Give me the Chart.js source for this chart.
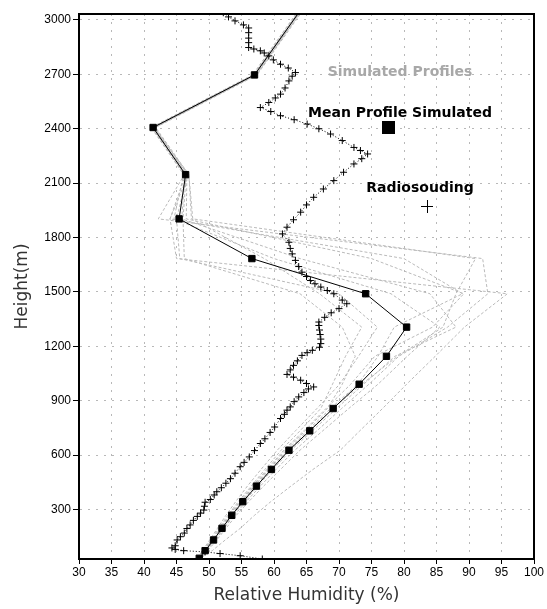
<!DOCTYPE html>
<html>
<head>
<meta charset="utf-8">
<title>Relative Humidity profiles</title>
<script src="https://cdn.jsdelivr.net/npm/chart.js@4/dist/chart.umd.min.js"></script>
<style>
  html, body { margin: 0; padding: 0; background: #fff; }
  #wrap { width: 547px; height: 609px; }
</style>
</head>
<body>
<div id="wrap"><canvas id="rh" width="547" height="609"></canvas></div>
<script>
/* ── Axis ticks ── */
var xTicks = [30, 35, 40, 45, 50, 55, 60, 65, 70, 75, 80, 85, 90, 95, 100];
var yTicks = [300, 600, 900, 1200, 1500, 1800, 2100, 2400, 2700, 3000];

/* ── Model levels (m) shared by simulated profiles ── */
var levels = [31, 73, 132, 196, 268, 343, 429, 521, 627, 734, 857, 991, 1145, 1306, 1490, 1684, 1903, 2147, 2407, 2697, 3050];

/* ── Mean simulated profile (RH %) ── */
var meanRH = [48.5, 49.4, 50.7, 52.0, 53.5, 55.2, 57.3, 59.6, 62.3, 65.5, 69.1, 73.1, 77.3, 80.4, 74.1, 56.6, 45.4, 46.4, 41.4, 57.0, 64.0];

/* ── Individual simulated profiles (RH %) ── */
var sim1 = [48.3, 50.5, 52.5, 54.8, 57.0, 59.5, 62.6, 66.0, 70.2, 73.2, 76.7, 80.4, 84.8, 89.3, 95.9, 45.0, 44.0, 46.8, 41.6, 57.3, 64.2];
var sim2 = [48.6, 49.6, 51.0, 52.3, 53.9, 55.7, 57.9, 60.3, 63.2, 66.6, 70.4, 74.6, 79.2, 86.7, 92.9, 92.1, 42.2, 46.2, 41.2, 56.8, 63.8];
var sim3 = [48.4, 49.2, 50.4, 51.7, 53.1, 54.7, 56.7, 58.9, 61.5, 64.6, 68.0, 71.8, 75.5, 84.4, 89.2, 75.0, 46.5, 46.6, 41.5, 57.1, 64.1];
var sim4 = [48.7, 49.5, 50.8, 52.2, 53.7, 55.4, 57.5, 59.8, 62.6, 65.9, 69.6, 73.8, 78.6, 88.0, 84.0, 64.0, 45.8, 46.3, 41.3, 56.9, 63.9];
var sim5 = [48.2, 49.0, 50.1, 51.3, 52.6, 54.1, 55.9, 58.0, 60.5, 63.3, 66.6, 70.1, 73.0, 75.9, 70.0, 45.5, 45.0, 46.7, 41.7, 57.2, 64.3];
var sim6 = [48.5, 49.3, 50.5, 51.8, 53.3, 54.9, 56.9, 59.1, 61.7, 64.8, 68.2, 70.5, 72.5, 70.5, 64.0, 46.2, 46.0, 46.5, 41.4, 57.0, 64.0];
var sim7 = [48.9, 49.8, 51.2, 52.6, 54.2, 56.1, 58.4, 61.0, 64.0, 67.5, 71.5, 76.0, 80.5, 85.5, 78.0, 60.0, 44.6, 46.1, 41.1, 56.7, 63.7];
var sim8 = [48.3, 49.1, 50.3, 51.5, 52.9, 54.5, 56.5, 58.6, 61.1, 64.0, 67.2, 69.0, 71.0, 73.5, 67.0, 58.5, 47.3, 46.9, 41.8, 57.4, 64.4];
var sim9 = [48.6, 49.4, 50.6, 51.9, 53.4, 55.0, 57.0, 59.3, 62.0, 65.1, 68.7, 72.9, 76.0, 78.5, 89.0, 80.0, 44.0, 46.4, 41.3, 57.0, 64.0];
var sim10 = [48.5, 49.3, 50.6, 51.9, 53.4, 55.1, 57.2, 59.5, 62.2, 65.4, 69.0, 73.5, 79.0, 86.0, 88.0, 91.0, 47.5, 46.9, 41.5, 57.1, 64.1];
var simProfiles = [sim1, sim2, sim3, sim4, sim5, sim6, sim7, sim8, sim9, sim10];

/* ── Radiosounding (RH %, height m) ── */
var sondeRH = [58.2, 54.8, 51.7, 49.4, 46.1, 44.8, 44.3, 44.8, 45.1, 45.6, 46.2, 46.6, 47.1, 47.6, 48.2, 48.7, 49.2, 49.3, 49.4,
  50.2, 50.8, 51.2, 51.9, 52.6, 53.3, 54.0, 54.8, 55.4, 56.2, 57.0, 57.9, 58.6, 59.4, 60.1, 61.0, 61.6, 62.0, 62.5, 63.1, 63.8,
  64.6, 65.3, 66.1, 65.0, 64.1, 63.0, 62.0, 62.5, 63.0, 63.6, 64.3, 65.1, 65.9, 67.0, 67.2, 67.2, 67.1, 67.0, 66.9, 66.9, 67.8,
  68.8, 70.0, 71.2, 70.5, 69.2, 68.2, 67.2, 66.3, 65.6, 65.0, 64.3, 63.8, 63.3, 62.8, 62.5, 62.3, 61.3, 62.0, 63.0, 64.1, 65.0,
  66.1, 67.6, 69.2, 70.7, 72.3, 73.5, 74.4, 73.3, 72.3, 70.5, 68.7, 66.9, 65.1, 63.1, 61.0, 59.5, 57.9, 59.2, 60.2, 61.0, 61.7,
  62.3, 62.8, 63.3, 62.2, 61.0, 59.9, 59.2, 58.5, 57.9, 56.9, 56.1, 56.1, 56.1, 56.1, 56.1, 55.3, 54.0, 53.0, 52.2];
var sondeH = [27, 45, 57, 66, 73, 80, 88, 100, 132, 150, 170, 195, 215, 240, 262, 280, 297, 318, 340,
  355, 380, 398, 420, 445, 470, 500, 536, 560, 590, 625, 664, 690, 725, 755, 802, 825, 848, 866, 895, 921,
  945, 965, 976, 995, 1013, 1030, 1045, 1070, 1095, 1120, 1150, 1165, 1178, 1195, 1215, 1240, 1265, 1290, 1315, 1334, 1360,
  1385, 1408, 1435, 1455, 1490, 1508, 1527, 1545, 1563, 1585, 1609, 1640, 1674, 1710, 1740, 1774, 1820, 1857, 1898, 1940, 1980,
  2022, 2068, 2114, 2160, 2206, 2235, 2261, 2280, 2297, 2335, 2371, 2400, 2426, 2450, 2472, 2495, 2517, 2545, 2570, 2591, 2625,
  2664, 2690, 2710, 2735, 2756, 2780, 2802, 2818, 2830, 2840, 2848, 2875, 2900, 2930, 2956, 2973, 2995, 3017, 3040];

function toPoints(xs, ys) {
  return xs.map(function (v, i) { return { x: v, y: ys[i] }; });
}

var datasets = [];
datasets.push({
  label: "Mean Profile Simulated",
  data: toPoints(meanRH, levels),
  showLine: true,
  borderColor: "#000",
  borderWidth: 1,
  pointStyle: "rect",
  pointRadius: 4.5,
  pointBorderWidth: 1,
  backgroundColor: "#000",
  pointBorderColor: "#000"
});
datasets.push({
  label: "Radiosouding",
  data: toPoints(sondeRH, sondeH),
  showLine: true,
  borderColor: "#000",
  borderWidth: 1,
  borderDash: [1, 2],
  pointStyle: "cross",
  pointRadius: 3.5,
  pointBorderWidth: 1,
  pointBorderColor: "#000"
});
simProfiles.forEach(function (p, i) {
  datasets.push({
    label: "Simulated " + (i + 1),
    data: toPoints(p, levels),
    showLine: true,
    borderColor: "#bababa",
    borderWidth: 1,
    borderDash: [3, 2],
    pointRadius: 0
  });
});

/* frame on top/right + in-plot legend text */
var framePlugin = {
  id: "frame",
  afterDraw: function (chart) {
    var ctx = chart.ctx, a = chart.chartArea;
    ctx.save();
    ctx.strokeStyle = "#000";
    ctx.lineWidth = 2;
    ctx.strokeRect(a.left, a.top, a.right - a.left, a.bottom - a.top);

    ctx.font = "bold 14px 'DejaVu Sans'";
    ctx.textAlign = "center";
    ctx.textBaseline = "middle";
    ctx.fillStyle = "#a8a8a8";
    ctx.fillText("Simulated Profiles", a.left + 321, a.top + 58);
    ctx.fillStyle = "#000";
    ctx.fillText("Mean Profile Simulated", a.left + 321, a.top + 99);
    ctx.fillRect(a.left + 303, a.top + 107, 13, 13);
    ctx.fillText("Radiosouding", a.left + 341, a.top + 174);
    ctx.lineWidth = 1;
    ctx.beginPath();
    ctx.moveTo(a.left + 342, a.top + 192.5);
    ctx.lineTo(a.left + 354, a.top + 192.5);
    ctx.moveTo(a.left + 348.5, a.top + 186);
    ctx.lineTo(a.left + 348.5, a.top + 199);
    ctx.stroke();
    ctx.restore();
  }
};

var tickFont = { family: "'Liberation Sans', Arial, sans-serif", size: 12 };
var titleFont = { family: "'DejaVu Sans', Verdana, sans-serif", size: 17 };
function plain(v) { return String(v); }

new Chart(document.getElementById("rh"), {
  type: "scatter",
  data: { datasets: datasets },
  plugins: [framePlugin],
  options: {
    responsive: false,
    animation: false,
    devicePixelRatio: 1,
    layout: { padding: { top: 14, right: 13, left: 0, bottom: 0 } },
    plugins: { legend: { display: false }, tooltip: { enabled: false } },
    scales: {
      x: {
        type: "linear",
        min: 30,
        max: 100,
        afterBuildTicks: function (s) { s.ticks = xTicks.map(function (v) { return { value: v }; }); },
        afterFit: function (s) { s.height = 50; },
        ticks: { color: "#000", font: tickFont, padding: 1, maxRotation: 0, autoSkip: false, callback: plain },
        grid: { color: "#b8b8b8", lineWidth: 1, tickColor: "#000", tickLength: 5, tickBorderDash: [] },
        border: { color: "#000", width: 2, dash: [2, 6] },
        title: { display: true, text: "Relative Humidity (%)", color: "#333", font: titleFont, padding: { top: 0, bottom: 3 } }
      },
      y: {
        type: "linear",
        min: 27,
        max: 3033,
        afterBuildTicks: function (s) { s.ticks = yTicks.map(function (v) { return { value: v }; }); },
        afterFit: function (s) { s.width = 79; },
        ticks: { color: "#000", font: tickFont, padding: 2, autoSkip: false, callback: plain },
        grid: { color: "#b8b8b8", lineWidth: 1, tickColor: "#000", tickLength: 6, tickBorderDash: [] },
        border: { color: "#000", width: 2, dash: [2, 6] },
        title: { display: true, text: "Height(m)", color: "#333", font: titleFont, padding: { top: 12, bottom: 0 } }
      }
    }
  }
});
</script>
</body>
</html>
